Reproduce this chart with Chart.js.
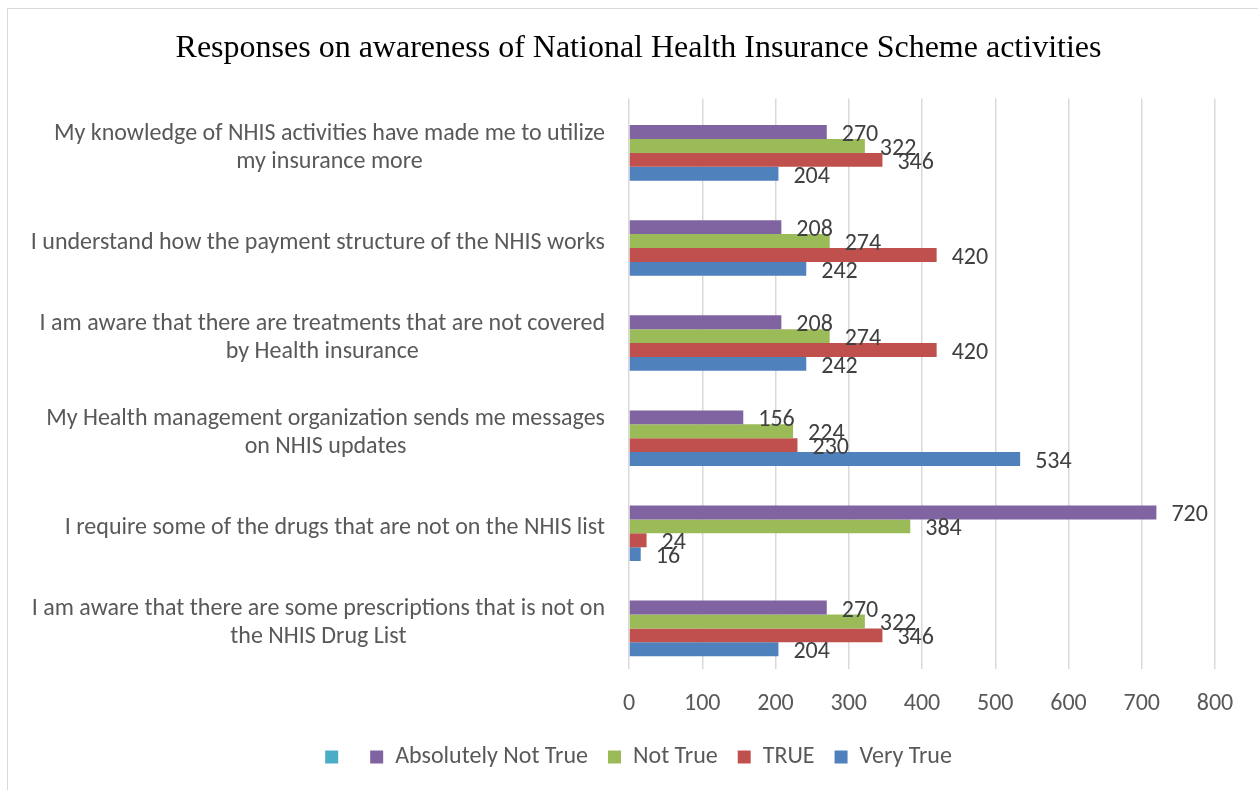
<!DOCTYPE html>
<html>
<head>
<meta charset="utf-8">
<title>Responses on awareness of National Health Insurance Scheme activities</title>
<script src="https://cdn.jsdelivr.net/npm/chart.js@4.4.1/dist/chart.umd.min.js"></script>
<style>
  html, body { margin: 0; padding: 0; background: #fff; overflow: hidden; }
  #marco { position: absolute; left: 7px; top: 8px; width: 1300px; height: 800px; border: 1px solid #d9d9d9; }
  #grafico { position: absolute; left: 0; top: 0; }
</style>
</head>
<body>
<div id="marco"></div>
<canvas id="grafico" width="1258" height="790"></canvas>
<script>
// Categorias (de arriba hacia abajo), cada una partida en lineas
let categorias = [
    ["My knowledge of NHIS activities have made me to utilize", "my insurance more"],
    ["I understand how the payment structure of the NHIS works"],
    ["I am aware that there are treatments that are not covered", "by Health insurance"],
    ["My Health management organization sends me messages", "on NHIS updates"],
    ["I require some of the drugs that are not on the NHIS list"],
    ["I am aware that there are some prescriptions that is not on", "the NHIS Drug List"]
];

let serieVacia = [null, null, null, null, null, null];
let absolutamenteNo = [270, 208, 208, 156, 720, 270];
let noCierto = [322, 274, 274, 224, 384, 322];
let cierto = [346, 420, 420, 230, 24, 346];
let muyCierto = [204, 242, 242, 534, 16, 204];

let ticksX = [0, 100, 200, 300, 400, 500, 600, 700, 800];

let colores = ["#4BACC6", "#8064A2", "#9BBB59", "#C0504D", "#4F81BD"];

let fuente = "Carlito, Calibri, 'Open Sans', 'Noto Sans', sans-serif";
let colorTexto = "#595959";

// dibuja las etiquetas del eje Y (lineas centradas, bloque alineado a la derecha)
let etiquetasY = {
    id: 'etiquetasY',
    afterDraw: function(chart){
        var ctx = chart.ctx;
        var y = chart.scales.y;
        var derecha = 605;
        var alto = 28;
        ctx.save();
        ctx.font = '24px ' + fuente;
        ctx.fillStyle = colorTexto;
        ctx.textAlign = 'center';
        ctx.textBaseline = 'middle';
        categorias.forEach(function(lineas, i){
            var ancho = 0;
            lineas.forEach(function(l){ ancho = Math.max(ancho, ctx.measureText(l).width); });
            var cx = derecha - ancho / 2;
            var cy = y.getPixelForValue(i) + 2 - (lineas.length - 1) * alto / 2;
            lineas.forEach(function(l, k){
                ctx.fillText(l, cx, cy + k * alto);
            });
        });
        ctx.restore();
    }
};

// valores al final de cada barra
let valoresBarras = {
    id: 'valoresBarras',
    afterDatasetsDraw: function(chart){
        var ctx = chart.ctx;
        ctx.save();
        ctx.font = '24px ' + fuente;
        ctx.fillStyle = '#404040';
        ctx.textAlign = 'left';
        ctx.textBaseline = 'middle';
        chart.data.datasets.forEach(function(ds, d){
            var meta = chart.getDatasetMeta(d);
            meta.data.forEach(function(el, i){
                var v = ds.data[i];
                if (v === null || v === undefined) return;
                ctx.fillText(v, el.x + 15, el.y + 3);
            });
        });
        ctx.restore();
    }
};

function mostrar_grafico(){
    var grafico = new Chart(document.getElementById('grafico'), {
        type: 'bar',
        data: {
            labels: categorias,
            datasets: [
                { label: '', data: serieVacia, backgroundColor: colores[0] },
                { label: 'Absolutely Not True', data: absolutamenteNo, backgroundColor: colores[1] },
                { label: 'Not True', data: noCierto, backgroundColor: colores[2] },
                { label: 'TRUE', data: cierto, backgroundColor: colores[3] },
                { label: 'Very True', data: muyCierto, backgroundColor: colores[4] }
            ]
        },
        options: {
            indexAxis: 'y',
            responsive: false,
            animation: false,
            devicePixelRatio: 1,
            barPercentage: 1,
            categoryPercentage: 0.73,
            layout: { padding: { left: 62, right: 43, top: 0, bottom: 11 } },
            scales: {
                x: {
                    min: 0,
                    max: 800,
                    afterBuildTicks: function(scale){
                        scale.ticks = ticksX.map(function(v){ return { value: v }; });
                    },
                    afterFit: function(scale){ scale.height = 56; },
                    grid: { color: '#d9d9d9', lineWidth: 1.5, drawTicks: false },
                    border: { display: false },
                    ticks: { padding: 21, color: colorTexto, font: { family: fuente, size: 24 } }
                },
                y: {
                    afterFit: function(scale){ scale.width = 567; },
                    grid: { display: false },
                    border: { display: false },
                    ticks: { display: false }
                }
            },
            plugins: {
                title: {
                    display: true,
                    text: 'Responses on awareness of National Health Insurance Scheme activities',
                    color: '#000',
                    font: { family: "'Liberation Serif', 'Times New Roman', serif", size: 32, weight: 'normal' },
                    padding: { top: 29, bottom: 31 }
                },
                legend: {
                    position: 'bottom',
                    labels: {
                        boxWidth: 13,
                        boxHeight: 13,
                        padding: 20,
                        color: colorTexto,
                        font: { family: fuente, size: 24 }
                    }
                },
                tooltip: { enabled: false }
            }
        },
        plugins: [etiquetasY, valoresBarras]
    });
}

mostrar_grafico();
</script>
</body>
</html>
